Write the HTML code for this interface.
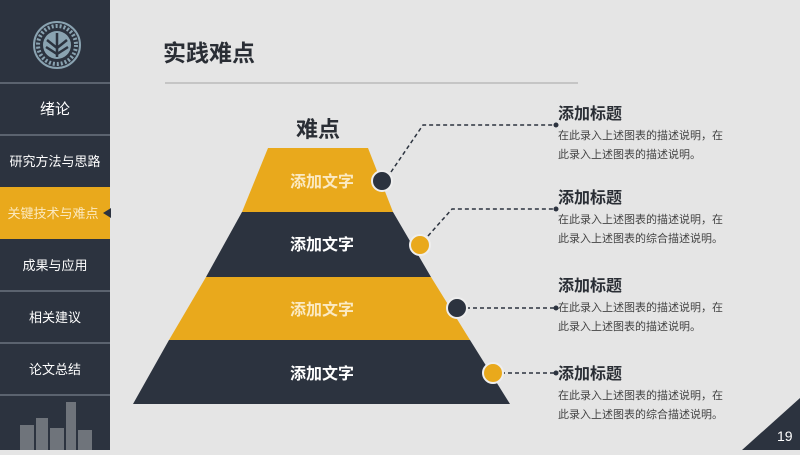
<!DOCTYPE html>
<html><head><meta charset="utf-8"><style>
html,body{margin:0;padding:0;}
body{width:800px;height:450px;overflow:hidden;background:#e5e5e5;font-family:"Liberation Sans","Noto Sans CJK SC",sans-serif;}
svg text{font-family:"Liberation Sans","Noto Sans CJK SC",sans-serif;}
</style></head><body>
<svg width="800" height="450" viewBox="0 0 800 450" xmlns="http://www.w3.org/2000/svg">
<rect width="800" height="450" fill="#e5e5e5"/>
<!-- sidebar -->
<rect x="0" y="0" width="110" height="450" fill="#2c333f"/>
<circle cx="57" cy="45" r="23" fill="none" stroke="#8aa3b1" stroke-width="2"/>
<circle cx="57" cy="45" r="19" fill="none" stroke="#8aa3b1" stroke-width="4" stroke-dasharray="2 2"/>
<circle cx="57" cy="45" r="14" fill="#8aa3b1"/>
<path d="M57 33 V57 M47 40 L57 48 L67 40 M46 47 L57 54 L68 47" stroke="#2c333f" stroke-width="2.5" fill="none"/>
<g stroke="#5b636f" stroke-width="2">
<line x1="0" y1="83" x2="110" y2="83"/><line x1="0" y1="135" x2="110" y2="135"/>
<line x1="0" y1="291" x2="110" y2="291"/><line x1="0" y1="343" x2="110" y2="343"/><line x1="0" y1="395" x2="110" y2="395"/>
</g>
<rect x="0" y="187" width="110" height="52" fill="#e9a91c"/>
<polygon points="103,213 111,208 111,218" fill="#2c333f"/>
<g fill="#fff" font-size="13" text-anchor="middle">
<text x="55" y="114" font-size="15">绪论</text>
<text x="55" y="166">研究方法与思路</text>
<text x="53" y="218" fill="#fbe9bf">关键技术与难点</text>
<text x="55" y="270">成果与应用</text>
<text x="55" y="322">相关建议</text>
<text x="55" y="374">论文总结</text>
</g>
<g fill="#6f747b">
<rect x="20" y="425" width="14" height="25"/><rect x="36" y="418" width="12" height="32"/>
<rect x="50" y="428" width="14" height="22"/><rect x="66" y="402" width="10" height="48"/>
<rect x="78" y="430" width="14" height="20"/>
</g>
<!-- header -->
<text x="163" y="61" font-size="23" font-weight="bold" fill="#2a2e35">实践难点</text>
<line x1="165" y1="83" x2="578" y2="83" stroke="#a5a5a5" stroke-width="1"/>
<text x="296" y="137" font-size="22" font-weight="bold" fill="#2a2e35">难点</text>
<!-- pyramid -->
<polygon points="268,148 368,148 393,212 242,212" fill="#e9a91c"/>
<polygon points="242,212 393,212 431,277 206,277" fill="#2c333f"/>
<polygon points="206,277 431,277 470,340 169,340" fill="#e9a91c"/>
<polygon points="169,340 470,340 510,404 133,404" fill="#2c333f"/>
<g fill="#fff" font-size="16" font-weight="bold" text-anchor="middle">
<text x="322" y="187" fill="#fbeac3">添加文字</text>
<text x="322" y="250">添加文字</text>
<text x="322" y="315" fill="#fbeac3">添加文字</text>
<text x="322" y="379">添加文字</text>
</g>
<!-- connectors -->
<g stroke="#2c333f" stroke-width="1.5" stroke-dasharray="4 3" fill="none">
<polyline points="391,172 423,125 556,125"/>
<polyline points="428,236 452,209 556,209"/>
<line x1="466" y1="308" x2="556" y2="308"/>
<line x1="501" y1="373" x2="556" y2="373"/>
</g>
<g fill="#2c333f">
<circle cx="556" cy="125" r="2.5"/><circle cx="556" cy="209" r="2.5"/><circle cx="556" cy="308" r="2.5"/><circle cx="556" cy="373" r="2.5"/>
</g>
<circle cx="382" cy="181" r="10" fill="#2c333f" stroke="#eee" stroke-width="2"/>
<circle cx="420" cy="245" r="10" fill="#e9a91c" stroke="#eee" stroke-width="2"/>
<circle cx="457" cy="308" r="10" fill="#2c333f" stroke="#eee" stroke-width="2"/>
<circle cx="493" cy="373" r="10" fill="#e9a91c" stroke="#eee" stroke-width="2"/>
<!-- right texts -->
<g fill="#2a2e35" font-size="16" font-weight="bold">
<text x="558" y="119">添加标题</text>
<text x="558" y="203">添加标题</text>
<text x="558" y="291">添加标题</text>
<text x="558" y="379">添加标题</text>
</g>
<g fill="#444" font-size="11">
<text x="558" y="139">在此录入上述图表的描述说明，在</text>
<text x="558" y="158">此录入上述图表的描述说明。</text>
<text x="558" y="223">在此录入上述图表的描述说明，在</text>
<text x="558" y="242">此录入上述图表的综合描述说明。</text>
<text x="558" y="311">在此录入上述图表的描述说明，在</text>
<text x="558" y="330">此录入上述图表的描述说明。</text>
<text x="558" y="399">在此录入上述图表的描述说明，在</text>
<text x="558" y="418">此录入上述图表的综合描述说明。</text>
</g>
<polygon points="742,450 800,398 800,450" fill="#2c333f"/>
<text x="777" y="441" font-size="14" fill="#fff">19</text>
</svg>
</body></html>
